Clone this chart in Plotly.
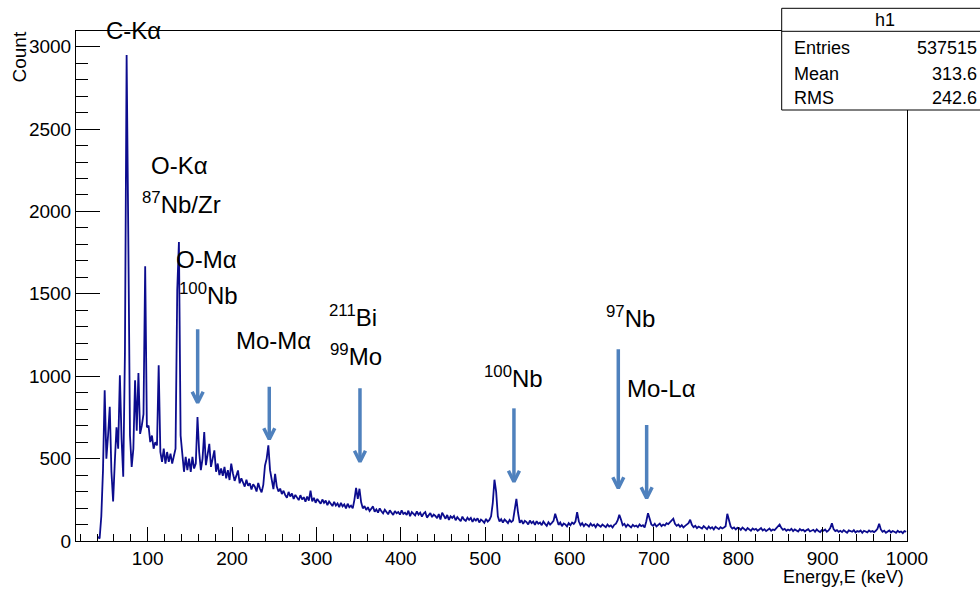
import plotly.graph_objects as go

# ---------------------------------------------------------------------------
# Gamma/X-ray energy spectrum (histogram "h1"), 2 keV bins starting at 40 keV
# ---------------------------------------------------------------------------
BIN_LO = 40.0   # keV, lower edge of first bin
BIN_W = 2.0     # keV, bin width

counts_040_200 = [
    25, 15, 150, 430, 915, 500, 640, 815, 420, 240,
    480, 690, 560, 1005, 620, 390, 1140, 2950, 1840, 640,
    450, 560, 975, 670, 1020, 650, 700, 770, 1667, 690,
    700, 600, 640, 560, 600, 580, 1066, 540, 480, 560,
    470, 540, 480, 530, 470, 520, 560, 1521, 1814, 640,
    500, 420, 510, 430, 500, 420, 510, 440, 470, 752,
    540, 430, 500, 661, 460, 530, 590, 450, 500, 550,
    420, 470, 400, 440, 395, 450, 380, 430, 370, 470,
]
counts_200_400 = [
    410, 365, 395, 428, 350, 380, 355, 330, 372, 335,
    350, 312, 345, 330, 300, 352, 318, 295, 340, 458,
    500, 580, 430, 357, 315, 408, 330, 300, 318, 285,
    305, 278, 262, 298, 270, 288, 255, 280, 265, 248,
    278, 252, 266, 238, 270, 245, 306, 240, 262, 232,
    255, 238, 226, 252, 232, 245, 218, 240, 224, 212,
    238, 215, 228, 205, 232, 210, 222, 198, 226, 205,
    215, 198, 250, 323, 256, 317, 235, 198, 212, 188,
    205, 182, 196, 210, 178, 192, 172, 198, 180, 168,
    190, 175, 162, 186, 170, 158, 182, 168, 176, 160,
]
counts_400_600 = [
    186, 165, 172, 158, 184, 150, 176, 168, 155, 180,
    160, 172, 148, 166, 175, 142, 158, 170, 145, 160,
    152, 138, 163, 130, 172, 148, 135, 158, 128, 150,
    140, 152, 126, 145, 134, 120, 148, 130, 122, 142,
    128, 140, 116, 135, 124, 138, 112, 130, 122, 110,
    134, 118, 128, 150, 230, 372, 300, 150, 118, 132,
    112, 130, 120, 108, 128, 115, 124, 190, 256, 170,
    110, 126, 104, 122, 115, 100, 124, 108, 118, 98,
    120, 105, 112, 96, 118, 104, 92, 114, 100, 110,
    122, 165, 125, 98, 112, 90, 106, 100, 88, 108,
]
counts_600_800 = [
    96, 112, 104, 118, 175, 120, 95, 108, 90, 104,
    98, 88, 106, 92, 100, 84, 102, 94, 86, 100,
    92, 84, 100, 88, 95, 82, 98, 105, 125, 159,
    130, 96, 104, 86, 100, 90, 82, 98, 88, 94,
    84, 100, 90, 96, 82, 120, 169, 135, 100, 92,
    104, 88, 98, 106, 90, 100, 94, 108, 102, 115,
    122, 135, 105, 92, 100, 86, 96, 82, 92, 100,
    108, 129, 98, 84, 92, 78, 88, 82, 76, 90,
    80, 72, 88, 76, 84, 70, 86, 78, 72, 84,
    76, 82, 90, 165, 120, 88, 76, 82, 70, 80,
]
counts_800_1000 = [
    78, 68, 82, 70, 64, 78, 72, 62, 76, 68,
    74, 62, 70, 78, 64, 72, 60, 70, 76, 62,
    70, 66, 78, 86, 100, 80, 68, 74, 62, 70,
    64, 74, 60, 70, 66, 58, 72, 64, 68, 58,
    66, 72, 58, 64, 68, 56, 70, 60, 54, 66,
    62, 70, 56, 64, 78, 108, 72, 60, 66, 56,
    62, 54, 66, 58, 50, 64, 60, 56, 66, 52,
    60, 56, 64, 50, 62, 58, 52, 64, 56, 60,
    54, 62, 74, 105, 70, 56, 62, 50, 58, 64,
    52, 60, 56, 50, 62, 54, 58, 48, 60, 56,
]

# Peak labels (text, energy in keV, count level of the label centre)
label_text = ["C-Kα", "O-Kα", "<sup>87</sup>Nb/Zr", "O-Mα", "<sup>100</sup>Nb",
              "Mo-Mα", "<sup>211</sup>Bi", "<sup>99</sup>Mo", "<sup>100</sup>Nb",
              "<sup>97</sup>Nb", "Mo-Lα"]
label_energy = [82.6, 137.4, 140.6, 169.1, 171.5, 248.9, 343.7, 346.3, 533.8, 672.8, 709.5]
label_count = [3098, 2280, 2049, 1708, 1500, 1217, 1366, 1128, 998, 1359, 927]

# Marker arrows pointing down at peaks (energy, tail count, tip count)
arrow_energy = [159.2, 244.1, 351.6, 534.1, 657.8, 691.4]
arrow_tail = [1285, 936, 927, 805, 1163, 704]
arrow_tip = [839, 617, 481, 360, 320, 259]

# Statistics box content
stats_title = "h1"
stats_names = ["Entries", "Mean", "RMS"]
stats_values = ["537515", "313.6", "242.6"]

# ---------------------------------------------------------------------------
counts = counts_040_200 + counts_200_400 + counts_400_600 + counts_600_800 + counts_800_1000
energy = [BIN_LO + BIN_W * (i + 0.5) for i in range(len(counts))]

W, H = 980, 590
MARGIN = dict(l=76, r=73, t=31, b=49, pad=0)
X_RANGE = [15, 1000]
Y_RANGE = [0, 3095]
plot_w = W - MARGIN["l"] - MARGIN["r"]
plot_h = H - MARGIN["t"] - MARGIN["b"]
kev_per_px = (X_RANGE[1] - X_RANGE[0]) / plot_w
cnt_per_px = (Y_RANGE[1] - Y_RANGE[0]) / plot_h

FONT = "Liberation Sans, Arial, Helvetica, sans-serif"
LINE_COLOR = "#0c0c8e"
ARROW_COLOR = "#4f81bd"

fig = go.Figure()

fig.add_trace(go.Scatter(
    x=energy, y=counts, mode="lines",
    line=dict(color=LINE_COLOR, width=1.8),
    hoverinfo="skip", showlegend=False,
))

# arrows: shaft + open chevron head
head_dx = 5.5 * kev_per_px
head_dy = 11 * cnt_per_px
ax, ay = [], []
for e, t0, t1 in zip(arrow_energy, arrow_tail, arrow_tip):
    ax += [e, e, None, e - head_dx, e, e + head_dx, None]
    ay += [t0, t1 + 1.5 * cnt_per_px, None, t1 + head_dy, t1, t1 + head_dy, None]
fig.add_trace(go.Scatter(
    x=ax, y=ay, mode="lines",
    line=dict(color=ARROW_COLOR, width=3.5),
    hoverinfo="skip", showlegend=False, cliponaxis=False,
))

# peak labels: x in keV, y as fraction of the count axis (so labels on the frame stay visible)
for txt, e, c in zip(label_text, label_energy, label_count):
    fig.add_annotation(
        x=e, y=(c - Y_RANGE[0]) / (Y_RANGE[1] - Y_RANGE[0]), xref="x", yref="paper",
        text=txt, showarrow=False, xanchor="center", yanchor="middle",
        font=dict(family=FONT, size=24, color="black"),
    )

# statistics box (top right, overlapping the frame)
def px_x(p):
    return (p - MARGIN["l"]) / plot_w

def px_y(p):
    return (H - MARGIN["b"] - p) / plot_h

box_x0, box_x1 = px_x(781.7), px_x(1000)
box_y0, box_y1 = px_y(110), px_y(8.3)
head_y = px_y(31.3)
fig.add_shape(type="rect", xref="paper", yref="paper",
              x0=box_x0, x1=box_x1, y0=box_y0, y1=box_y1,
              line=dict(color="black", width=1), fillcolor="white", layer="above")
fig.add_shape(type="line", xref="paper", yref="paper",
              x0=box_x0, x1=box_x1, y0=head_y, y1=head_y,
              line=dict(color="black", width=1), layer="above")
fig.add_annotation(x=px_x(885), y=px_y(20), xref="paper", yref="paper",
                   text=stats_title, showarrow=False, xanchor="center", yanchor="middle",
                   font=dict(family=FONT, size=18, color="black"))
row_y = [48, 73.5, 98]
for name, val, yy in zip(stats_names, stats_values, row_y):
    fig.add_annotation(x=px_x(792), y=px_y(yy), xref="paper", yref="paper",
                       text=name, showarrow=False, xanchor="left", yanchor="middle",
                       font=dict(family=FONT, size=18, color="black"))
    fig.add_annotation(x=px_x(979), y=px_y(yy), xref="paper", yref="paper",
                       text=val, showarrow=False, xanchor="right", yanchor="middle",
                       font=dict(family=FONT, size=18, color="black"))

# axis titles
fig.add_annotation(x=px_x(19), y=px_y(57.5), xref="paper", yref="paper",
                   text="Count", textangle=-90, showarrow=False,
                   xanchor="center", yanchor="middle",
                   font=dict(family=FONT, size=19, color="black"))
fig.add_annotation(x=px_x(906), y=px_y(576.5), xref="paper", yref="paper",
                   text="Energy,E (keV)", showarrow=False,
                   xanchor="right", yanchor="middle",
                   font=dict(family=FONT, size=18, color="black"))

fig.update_xaxes(
    range=X_RANGE, showgrid=False, zeroline=False,
    showline=True, linecolor="black", linewidth=1, mirror=True,
    ticks="inside", ticklen=14, tickwidth=1, tickcolor="black",
    tick0=0, dtick=100,
    minor=dict(ticks="inside", ticklen=7, tickwidth=1, tickcolor="black", dtick=20, showgrid=False),
    tickfont=dict(family=FONT, size=19, color="black"),
)
fig.update_yaxes(
    range=Y_RANGE, showgrid=False, zeroline=False,
    showline=True, linecolor="black", linewidth=1, mirror=True,
    ticks="inside", ticklen=24, tickwidth=1, tickcolor="black",
    tick0=0, dtick=500,
    minor=dict(ticks="inside", ticklen=12, tickwidth=1, tickcolor="black", dtick=100, showgrid=False),
    tickfont=dict(family=FONT, size=19, color="black"),
)

fig.update_layout(
    width=W, height=H, margin=MARGIN,
    paper_bgcolor="white", plot_bgcolor="white",
    showlegend=False,
)

fig.write_html("out.html")
